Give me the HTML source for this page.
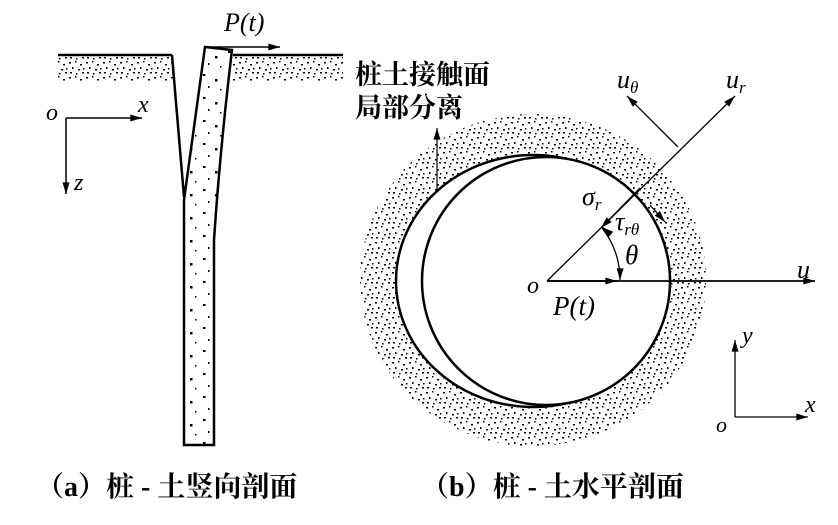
<!DOCTYPE html>
<html><head><meta charset="utf-8"><style>
html,body{margin:0;padding:0;background:#fff;}
svg{display:block;}
.t{font-family:"Liberation Serif",serif;font-style:italic;}
.c{font-family:"Liberation Serif","Noto Serif CJK SC",serif;font-weight:bold;}
</style></head><body>
<svg width="838" height="525" viewBox="0 0 838 525" xmlns="http://www.w3.org/2000/svg">
<defs>
<pattern id="dots" width="17" height="15" patternUnits="userSpaceOnUse">
<rect x="1" y="2" width="2" height="1.5" fill="#000"/>
<rect x="7" y="1" width="1.5" height="1.5" fill="#000"/>
<rect x="12" y="4" width="2" height="1.5" fill="#000"/>
<rect x="4" y="7" width="1.5" height="2" fill="#000"/>
<rect x="10" y="9" width="2" height="1.5" fill="#000"/>
<rect x="15" y="8" width="1.5" height="1.5" fill="#000"/>
<rect x="2" y="12" width="2" height="1.5" fill="#000"/>
<rect x="8" y="13" width="1.5" height="1.5" fill="#000"/>
<rect x="14" y="12" width="2" height="1.5" fill="#000"/>
</pattern>
<pattern id="dots2" width="25" height="23" patternUnits="userSpaceOnUse">
<rect x="3" y="5" width="2.5" height="2" fill="#000"/>
<rect x="15" y="10" width="2.5" height="2.5" fill="#000"/>
<rect x="8" y="17" width="1.5" height="2" fill="#000"/>
<rect x="20" y="20" width="1.5" height="1.5" fill="#000"/>
</pattern>
<marker id="ar" viewBox="0 0 10 6" refX="10" refY="3" markerWidth="13" markerHeight="7" markerUnits="userSpaceOnUse" orient="auto"><path d="M0,0 L10,3 L0,6 Z" fill="#000"/></marker>
</defs>
<!-- left figure -->
<rect x="58" y="56" width="115" height="25" fill="url(#dots)"/>
<rect x="233" y="56" width="110" height="25" fill="url(#dots)"/>
<polygon points="205,47 232,50 214,240 214,445 184,445 184,200" fill="url(#dots2)"/>
<line x1="58" y1="55" x2="172" y2="55" stroke="#000" stroke-width="2.5"/>
<line x1="233" y1="55" x2="343" y2="55" stroke="#000" stroke-width="2.5"/>
<polyline points="172,55 184,197" fill="none" stroke="#000" stroke-width="2.5"/>
<path d="M205,47 L184,200 L184,445 L214,445 L214,240 Q220,150 232,50 Z" fill="none" stroke="#000" stroke-width="2.5"/>
<line x1="205" y1="47" x2="280" y2="47" stroke="#000" stroke-width="1.5" marker-end="url(#ar)"/>
<text x="224" y="31" class="t" font-size="26">P(t)</text>
<text x="46" y="120" class="t" font-size="24">o</text>
<line x1="66" y1="118" x2="142" y2="118" stroke="#000" stroke-width="1.5" marker-end="url(#ar)"/>
<text x="138" y="112" class="t" font-size="24">x</text>
<line x1="66" y1="118" x2="66" y2="194" stroke="#000" stroke-width="1.5" marker-end="url(#ar)"/>
<text x="74" y="190" class="t" font-size="24">z</text>

<!-- right figure -->
<ellipse cx="533" cy="280" rx="173" ry="166" fill="url(#dots)"/>
<ellipse cx="533" cy="281" rx="137" ry="126" fill="#fff" stroke="#000" stroke-width="2.5"/>
<circle cx="546" cy="281" r="124" fill="#fff" stroke="#000" stroke-width="2.5"/>
<line x1="437" y1="190" x2="437" y2="128" stroke="#000" stroke-width="1.2" marker-end="url(#ar)"/>
<text x="355" y="84" class="c" font-size="27">桩土接触面</text>
<text x="355" y="117" class="c" font-size="27">局部分离</text>
<line x1="547" y1="281" x2="815" y2="281" stroke="#000" stroke-width="1.8" marker-end="url(#ar)"/>
<line x1="547" y1="281" x2="617" y2="281" stroke="#000" stroke-width="1.8" marker-end="url(#ar)"/>
<line x1="547" y1="281" x2="735" y2="96" stroke="#000" stroke-width="1.3" marker-end="url(#ar)"/>
<line x1="678" y1="147" x2="627" y2="96" stroke="#000" stroke-width="1.3" marker-end="url(#ar)"/>
<line x1="640" y1="188" x2="601" y2="228" stroke="#000" stroke-width="1.3" marker-end="url(#ar)"/>
<line x1="650" y1="205" x2="665" y2="222" stroke="#000" stroke-width="1.3" marker-end="url(#ar)"/>
<path d="M602,228 A82,82 0 0 1 620,280" fill="none" stroke="#000" stroke-width="1.3" marker-end="url(#ar)"/>
<line x1="608" y1="232" x2="602" y2="227" stroke="#000" stroke-width="1.3" marker-end="url(#ar)"/>
<text x="617" y="88" class="t" font-size="26">u<tspan font-size="17" dy="5">θ</tspan></text>
<text x="726" y="88" class="t" font-size="26">u<tspan font-size="17" dy="5">r</tspan></text>
<text x="582" y="205" class="t" font-size="26">σ<tspan font-size="17" dy="5">r</tspan></text>
<text x="615" y="230" class="t" font-size="26">τ<tspan font-size="17" dy="5">rθ</tspan></text>
<text x="625" y="264" class="t" font-size="27">θ</text>
<text x="527" y="293" class="t" font-size="24">o</text>
<text x="553" y="315" class="t" font-size="27">P(t)</text>
<text x="797" y="278" class="t" font-size="26">u</text>
<line x1="735" y1="417" x2="735" y2="340" stroke="#000" stroke-width="1.3" marker-end="url(#ar)"/>
<line x1="735" y1="417" x2="808" y2="417" stroke="#000" stroke-width="1.3" marker-end="url(#ar)"/>
<text x="742" y="343" class="t" font-size="24">y</text>
<text x="805" y="412" class="t" font-size="24">x</text>
<text x="716" y="432" class="t" font-size="22">o</text>
<text x="36" y="496" class="c" font-size="28">（a）桩 - 土竖向剖面</text>
<text x="421" y="496" class="c" font-size="28">（b）桩 - 土水平剖面</text>
</svg>
</body></html>
